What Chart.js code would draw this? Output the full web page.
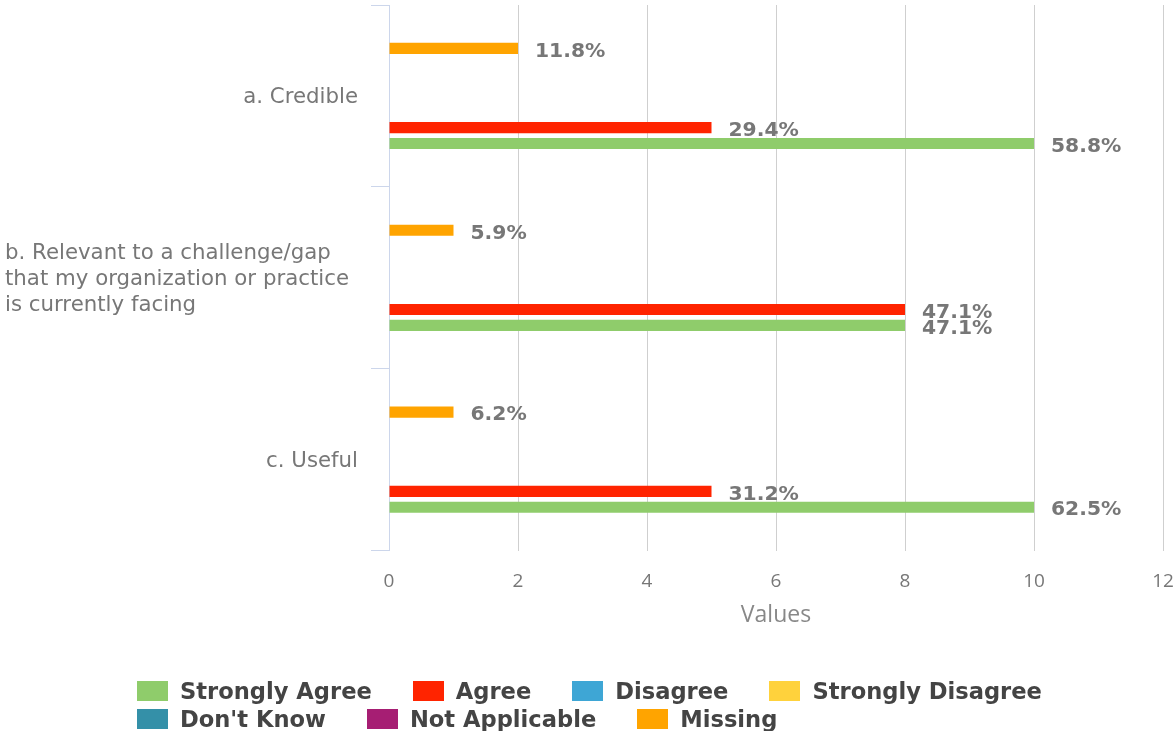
<!DOCTYPE html>
<html>
<head>
<meta charset="utf-8">
<script src="https://cdn.jsdelivr.net/npm/chart.js@4/dist/chart.umd.min.js"></script>
<style>
  html, body { margin: 0; padding: 0; background: #fff; }
  #wrap { position: relative; width: 1176px; height: 731px; }
  #legend {
    position: absolute; left: 137px; top: 677px; width: 1000px;
    display: flex; flex-wrap: wrap;
    font: bold 22.6px "DejaVu Sans", sans-serif; color: #444;
  }
  .item { display: flex; align-items: center; height: 28px; margin-right: 41px; white-space: nowrap; }
  .box { width: 31px; height: 20px; margin-right: 12px; }
</style>
</head>
<body>
<div id="wrap">
  <canvas id="chart" width="1176" height="731"></canvas>
  <div id="legend"></div>
</div>
<script>
const categories = [
  'a. Credible',
  ['b. Relevant to a challenge/gap', 'that my organization or practice', 'is currently facing'],
  'c. Useful'
];
const seriesNames = ['Strongly Agree', 'Agree', 'Disagree', 'Strongly Disagree', "Don't Know", 'Not Applicable', 'Missing'];
const seriesColors = ['#8fcc6b', '#ff2400', '#3ea6d5', '#ffd23c', '#3490a8', '#a61e73', '#ffa400'];

const strongAgree = [10, 8, 10];
const agree = [5, 8, 5];
const disagree = [0, 0, 0];
const strongDisagree = [0, 0, 0];
const dontKnow = [0, 0, 0];
const notApplicable = [0, 0, 0];
const missing = [2, 1, 1];

const strongAgreePct = ['58.8%', '47.1%', '62.5%'];
const agreePct = ['29.4%', '47.1%', '31.2%'];
const missingPct = ['11.8%', '5.9%', '6.2%'];

const xTicks = [0, 2, 4, 6, 8, 10, 12];

const values = [strongAgree, agree, disagree, strongDisagree, dontKnow, notApplicable, missing];
const pctLabels = [strongAgreePct, agreePct, [], [], [], [], missingPct];

// first series sits at the bottom of each group, so feed them in reverse
const datasets = seriesNames.map((name, i) => ({
  label: name,
  data: values[i],
  pct: pctLabels[i],
  backgroundColor: seriesColors[i],
  borderWidth: 0,
  categoryPercentage: 0.61,
  barPercentage: 0.7
})).reverse();

const valueLabels = {
  id: 'valueLabels',
  afterDatasetsDraw(chart) {
    const c = chart.ctx;
    c.save();
    c.font = 'bold 20.3px "DejaVu Sans", sans-serif';
    c.fillStyle = '#777';
    c.textAlign = 'left';
    c.textBaseline = 'middle';
    chart.data.datasets.forEach((ds, di) => {
      const meta = chart.getDatasetMeta(di);
      meta.data.forEach((bar, i) => {
        if (!ds.data[i]) return;
        c.fillText(ds.pct[i], bar.x + 17, bar.y + 3);
      });
    });
    c.restore();
  }
};

const categoryLabels = {
  id: 'categoryLabels',
  afterDraw(chart) {
    const c = chart.ctx;
    const y = chart.scales.y;
    c.save();
    c.font = '21.3px "DejaVu Sans", sans-serif';
    c.fillStyle = '#777';
    c.textAlign = 'left';
    c.textBaseline = 'middle';
    categories.forEach((lab, i) => {
      const lines = Array.isArray(lab) ? lab : [lab];
      const w = Math.max(...lines.map(l => c.measureText(l).width));
      const x = lines.length > 1 ? 5 : 358 - w;
      const cy = y.getPixelForValue(i) + 1.5;
      lines.forEach((l, j) => {
        c.fillText(l, x, cy + (j - (lines.length - 1) / 2) * 26);
      });
    });
    c.restore();
  }
};

new Chart(document.getElementById('chart'), {
  type: 'bar',
  data: { labels: categories, datasets: datasets },
  options: {
    indexAxis: 'y',
    responsive: false,
    animation: false,
    layout: { padding: { top: 5, right: 13, bottom: 102, left: 0 } },
    scales: {
      x: {
        min: 0,
        max: 12,
        afterBuildTicks(scale) { scale.ticks = xTicks.map(v => ({ value: v })); },
        afterFit(scale) { scale.paddingLeft = 0; scale.paddingRight = 0; },
        grid: { color: '#cfcfcf', drawTicks: false },
        border: { display: false },
        ticks: { color: '#777', padding: 20, font: { family: '"Open Sans", sans-serif', size: 19 } },
        title: {
          display: true, text: 'Values', color: '#888',
          padding: { top: -12, bottom: 0 },
          font: { family: '"Open Sans", sans-serif', size: 23 }
        }
      },
      y: {
        afterFit(scale) { scale.width = 389; },
        grid: { drawOnChartArea: false, drawTicks: true, tickLength: 18, color: '#ccd6eb' },
        border: { display: true, color: '#ccd6eb' },
        ticks: { display: false }
      }
    },
    plugins: {
      legend: { display: false },
      tooltip: { enabled: false }
    }
  },
  plugins: [valueLabels, categoryLabels]
});

// legend, left-aligned rows like the original
const legendEl = document.getElementById('legend');
seriesNames.forEach((name, i) => {
  const item = document.createElement('div');
  item.className = 'item';
  const box = document.createElement('span');
  box.className = 'box';
  box.style.background = seriesColors[i];
  const txt = document.createElement('span');
  txt.textContent = name;
  item.appendChild(box);
  item.appendChild(txt);
  legendEl.appendChild(item);
});
</script>
</body>
</html>
